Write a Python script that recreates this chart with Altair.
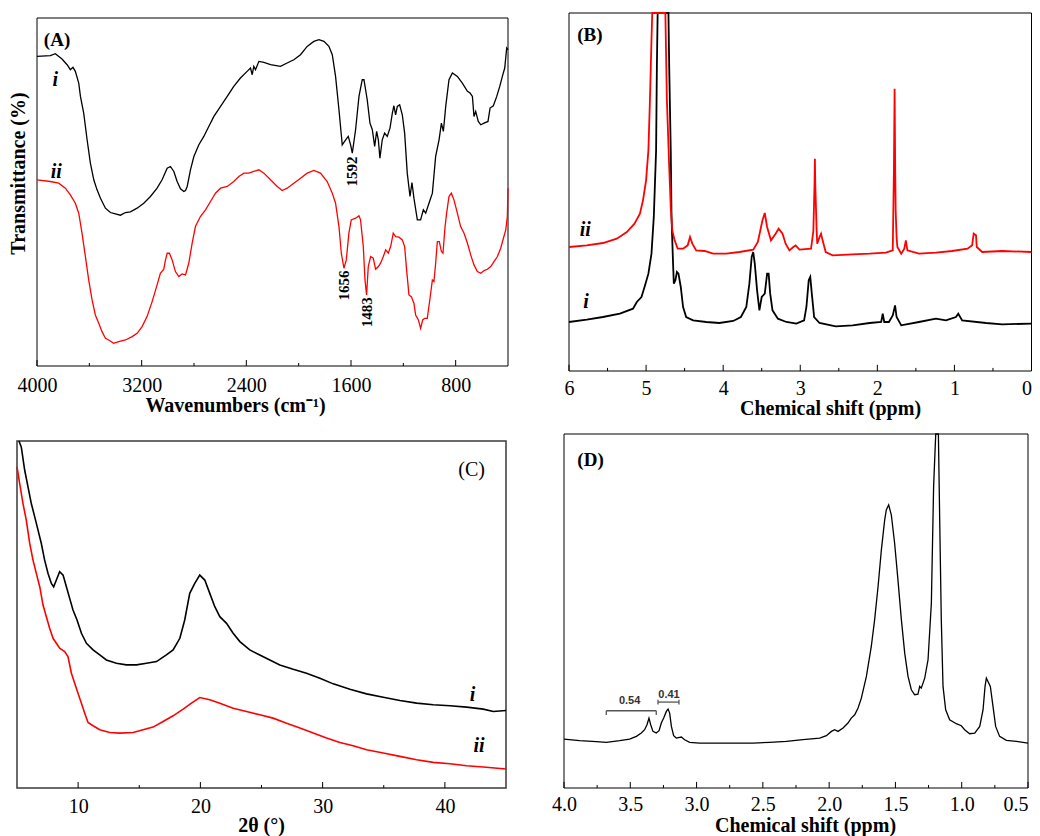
import altair as alt
import pandas as pd

# ---------------- Panel A: FTIR (wavenumber, transmittance a.u.) ----------------
A_WN_I = [4000, 3898, 3860, 3809, 3770, 3745, 3725, 3707, 3681, 3668, 3643, 3617, 3592, 3566, 3541, 3515,
          3477, 3439, 3401, 3362, 3324, 3286, 3235, 3184, 3133, 3082, 3044, 3005, 2980, 2954, 2929, 2903,
          2878, 2865, 2852, 2827, 2801, 2763, 2725, 2687, 2648, 2597, 2546, 2496, 2445, 2394, 2368, 2355,
          2343, 2330, 2304, 2266, 2215, 2139, 2088, 2037, 1986, 1935, 1884, 1845, 1807, 1769, 1743, 1718,
          1692, 1667, 1641, 1621, 1603, 1590, 1565, 1539, 1514, 1501, 1476, 1455, 1437, 1419, 1404, 1391,
          1379, 1361, 1343, 1323, 1302, 1284, 1272, 1259, 1246, 1228, 1208, 1190, 1170, 1149, 1134, 1119,
          1093, 1068, 1047, 1029, 1004, 978, 953, 927, 909, 894, 876, 851, 825, 787, 749, 710, 690, 672,
          660, 647, 627, 608, 583, 553, 537, 512, 486, 463, 443, 425, 410, 400]
A_T_I = [928, 930, 936, 920, 903, 888, 895, 883, 848, 808, 758, 678, 608, 558, 528, 503,
         473, 460, 456, 452, 460, 462, 473, 488, 508, 533, 558, 593, 598, 583, 553, 531,
         523, 526, 538, 588, 628, 663, 688, 718, 748, 778, 808, 838, 863, 883, 893, 873,
         898, 888, 913, 910, 903, 898, 908, 918, 933, 958, 973, 978, 973, 958, 933, 868,
         768, 663, 678, 688, 663, 638, 708, 808, 858, 858, 798, 728, 708, 658, 703, 678,
         623, 678, 698, 688, 713, 758, 780, 753, 778, 783, 753, 698, 578, 508, 550, 503,
         438, 438, 468, 458, 488, 518, 628, 678, 728, 703, 778, 858, 878, 868, 848, 823, 818, 808,
         748, 763, 733, 723, 728, 733, 773, 780, 808, 838, 868, 893, 953, 948]
A_WN_II = [4000, 3898, 3834, 3783, 3745, 3707, 3681, 3656, 3630, 3605, 3579, 3554, 3528, 3503, 3477, 3452,
           3414, 3375, 3324, 3273, 3235, 3197, 3159, 3120, 3082, 3057, 3031, 3018, 3005, 2988, 2967, 2942,
           2916, 2891, 2865, 2840, 2814, 2789, 2751, 2712, 2674, 2636, 2597, 2546, 2496, 2457, 2419, 2381,
           2343, 2304, 2266, 2215, 2164, 2126, 2088, 2037, 1986, 1935, 1884, 1833, 1782, 1743, 1718, 1692,
           1674, 1654, 1636, 1616, 1598, 1565, 1539, 1527, 1506, 1493, 1481, 1468, 1450, 1430, 1412, 1391,
           1374, 1353, 1335, 1315, 1297, 1277, 1259, 1233, 1208, 1190, 1175, 1157, 1139, 1119, 1106, 1085,
           1068, 1052, 1037, 1017, 996, 978, 966, 953, 940, 925, 909, 897, 881, 869, 851, 833, 813, 787,
           762, 736, 710, 685, 660, 634, 608, 583, 558, 532, 507, 481, 456, 435, 417, 405, 400]
A_T_II = [558, 553, 548, 533, 513, 488, 458, 398, 328, 258, 198, 153, 128, 103, 83, 78,
          68, 73, 78, 88, 98, 118, 148, 193, 243, 278, 290, 318, 338, 338, 318, 283,
          268, 276, 273, 308, 368, 418, 448, 468, 493, 518, 533, 538, 553, 568, 578, 578,
          583, 588, 578, 558, 538, 526, 533, 548, 563, 578, 586, 578, 553, 518, 488, 418,
          338, 293, 318, 398, 438, 443, 450, 438, 358, 258, 213, 298, 328, 323, 290, 298,
          308, 328, 348, 338, 358, 398, 388, 386, 378, 358, 288, 213, 208, 188, 153, 138,
          113, 138, 143, 143, 203, 258, 253, 308, 373, 373, 343, 338, 418, 458, 508, 518, 498, 458,
          418, 398, 368, 333, 303, 283, 278, 286, 290, 298, 313, 328, 353, 383, 408, 448, 533]
A_TICKS_MAJOR = [4000, 3200, 2400, 1600, 800]
A_TICKS_MINOR = [3600, 2800, 2000, 1200]
A_PEAKS = [[1590, 583, "1592"], [1654, 241, "1656"], [1476, 161, "1483"]]
A_NAMES = [[3860, 858, "i"], [3852, 580, "ii"]]

# ---------------- Panel B: 1H NMR (ppm, intensity a.u.) ----------------
B_PPM_I = [6.00, 5.77, 5.56, 5.34, 5.17, 5.12, 5.06, 5.02, 4.97, 4.93, 4.90, 4.87, 4.86, 4.85, 4.78, 4.71,
           4.70, 4.68, 4.67, 4.65, 4.64, 4.62, 4.60, 4.58, 4.55, 4.52, 4.48, 4.39, 4.22, 4.05, 3.87, 3.77,
           3.70, 3.66, 3.63, 3.61, 3.59, 3.56, 3.53, 3.50, 3.46, 3.43, 3.41, 3.39, 3.36, 3.29, 3.18, 3.05,
           2.95, 2.92, 2.89, 2.87, 2.85, 2.82, 2.75, 2.54, 2.32, 2.10, 1.95, 1.93, 1.91, 1.85, 1.80, 1.77,
           1.75, 1.69, 1.46, 1.24, 1.11, 0.98, 0.95, 0.90, 0.59, 0.38, 0.00]
B_INT_I = [147, 154, 162, 172, 187, 207, 222, 252, 292, 352, 462, 662, 912, 1074, 3000, 1074,
           912, 662, 462, 322, 262, 272, 297, 292, 252, 192, 162, 152, 147, 144, 150, 162,
           192, 262, 342, 357, 322, 242, 182, 222, 232, 292, 292, 232, 182, 157, 147, 142,
           152, 192, 272, 282, 232, 162, 144, 134, 137, 144, 147, 172, 147, 147, 167, 197,
           162, 137, 147, 157, 152, 162, 172, 152, 144, 140, 142]
B_PPM_II = [6.00, 5.77, 5.56, 5.38, 5.25, 5.15, 5.08, 5.04, 5.00, 4.97, 4.95, 4.93, 4.92, 4.84, 4.75, 4.73,
            4.70, 4.68, 4.66, 4.63, 4.59, 4.52, 4.46, 4.43, 4.40, 4.35, 4.24, 4.13, 3.96, 3.79, 3.61, 3.55,
            3.49, 3.46, 3.43, 3.38, 3.32, 3.28, 3.23, 3.19, 3.14, 3.09, 3.06, 3.01, 2.86, 2.83, 2.815, 2.81,
            2.805, 2.79, 2.78, 2.75, 2.73, 2.71, 2.67, 2.58, 2.32, 2.10, 1.89, 1.80, 1.785, 1.776, 1.768, 1.762,
            1.75, 1.74, 1.69, 1.65, 1.63, 1.61, 1.46, 1.24, 1.03, 0.83, 0.77, 0.75, 0.72, 0.71, 0.64, 0.38, 0.00]
B_INT_II = [372, 377, 384, 397, 417, 442, 472, 512, 572, 662, 812, 992, 1074, 3000, 1074, 812,
            612, 492, 422, 392, 367, 367, 377, 402, 382, 362, 360, 352, 352, 357, 364, 387,
            452, 474, 432, 392, 412, 427, 412, 382, 362, 372, 377, 364, 367, 420, 560, 637,
            560, 440, 382, 402, 412, 392, 357, 347, 350, 352, 355, 362, 600, 847, 600, 480,
            400, 372, 352, 367, 392, 362, 352, 355, 360, 367, 377, 412, 407, 372, 357, 360, 357]
B_TICKS_MAJOR = [6, 5, 4, 3, 2, 1, 0]
B_TICKS_MINOR = [5.5, 4.5, 3.5, 2.5, 1.5, 0.5]
B_NAMES = [[5.79, 422, "ii"], [5.78, 207, "i"]]

# ---------------- Panel C: XRD (2theta, intensity a.u.) ----------------
C_2T_I = [5.16, 5.35, 5.63, 5.90, 6.17, 6.45, 6.72, 6.99, 7.26, 7.54, 7.81, 8.00, 8.22, 8.49, 8.77, 9.04,
          9.31, 9.58, 9.91, 10.27, 10.68, 11.22, 11.77, 12.31, 13.13, 13.95, 14.77, 15.59, 16.41, 17.22,
          17.77, 18.32, 18.72, 19.13, 19.54, 19.95, 20.36, 20.77, 21.18, 21.59, 22.14, 22.68, 23.23, 24.04,
          24.86, 25.68, 26.50, 27.59, 28.68, 29.78, 30.87, 32.23, 33.59, 34.96, 36.32, 37.69, 39.05, 40.42,
          41.78, 43.14, 43.96, 45.0]
C_INT_I = [1085, 1025, 955, 905, 855, 815, 775, 735, 685, 645, 615, 605, 625, 650, 640, 605,
           570, 535, 505, 465, 435, 415, 400, 385, 375, 370, 370, 375, 380, 400,
           415, 450, 505, 585, 615, 640, 625, 585, 545, 515, 495, 465, 440, 415,
           400, 385, 370, 357, 345, 330, 313, 297, 283, 273, 263, 255, 250, 247,
           243, 237, 230, 233]
C_2T_II = [5.0, 5.22, 5.49, 5.76, 6.04, 6.31, 6.58, 6.86, 7.13, 7.40, 7.67, 7.95, 8.22, 8.49, 8.90, 9.17,
           9.45, 9.72, 9.99, 10.27, 10.54, 10.81, 11.22, 11.77, 12.59, 13.40, 14.50, 15.31, 16.13, 16.95,
           17.77, 18.59, 19.27, 19.95, 20.77, 21.59, 22.68, 23.77, 24.86, 25.95, 27.05, 28.14, 29.23, 30.32,
           31.41, 32.50, 33.59, 34.96, 36.32, 37.69, 39.05, 40.42, 41.78, 43.14, 45.0]
C_INT_II = [965, 915, 855, 805, 735, 685, 645, 605, 550, 515, 480, 450, 435, 420, 410, 395,
            345, 315, 285, 255, 225, 197, 187, 175, 167, 165, 167, 175, 183, 200,
            217, 237, 255, 272, 265, 255, 240, 230, 220, 210, 195, 180, 165, 150,
            137, 127, 115, 105, 95, 85, 77, 73, 67, 63, 57]
C_TICKS_MAJOR = [10, 20, 30, 40]
C_TICKS_MINOR = [15, 25, 35]
C_NAMES = [[42.27, 280, "i"], [42.79, 125, "ii"]]

# ---------------- Panel D: 1H NMR (ppm, intensity a.u.) ----------------
D_PPM = [4.000, 3.882, 3.756, 3.681, 3.580, 3.505, 3.454, 3.417, 3.392, 3.374, 3.359, 3.346, 3.329, 3.304,
         3.283, 3.266, 3.248, 3.228, 3.215, 3.203, 3.190, 3.173, 3.153, 3.115, 3.090, 3.052, 2.977, 2.826,
         2.700, 2.574, 2.449, 2.323, 2.197, 2.071, 2.021, 1.983, 1.958, 1.933, 1.895, 1.858, 1.833, 1.807,
         1.782, 1.757, 1.719, 1.682, 1.657, 1.631, 1.606, 1.581, 1.569, 1.551, 1.531, 1.506, 1.481, 1.455,
         1.430, 1.405, 1.380, 1.355, 1.330, 1.317, 1.305, 1.279, 1.254, 1.229, 1.212, 1.196, 1.186, 1.176,
         1.166, 1.154, 1.141, 1.121, 1.091, 1.041, 1.003, 0.978, 0.940, 0.902, 0.864, 0.839, 0.824, 0.814,
         0.802, 0.784, 0.764, 0.744, 0.714, 0.663, 0.588, 0.500]
D_INT = [147, 142, 139, 137, 142, 147, 155, 165, 175, 190, 210, 190, 170, 165,
         172, 195, 210, 230, 237, 225, 185, 157, 150, 153, 145, 137, 135, 135,
         135, 135, 137, 140, 145, 150, 157, 170, 175, 170, 180, 195, 210, 220,
         240, 270, 335, 425, 505, 605, 715, 805, 835, 850, 820, 735, 625, 505,
         405, 335, 295, 280, 282, 305, 300, 330, 385, 555, 905, 1063, 1600, 1063,
         805, 505, 305, 235, 205, 193, 187, 175, 163, 165, 185, 235, 305, 330,
         320, 305, 245, 185, 155, 143, 140, 135]
D_TICKS_MAJOR = [4.0, 3.5, 3.0, 2.5, 2.0, 1.5, 1.0, 0.5]
D_TICKS_MINOR = [3.75, 3.25, 2.75, 2.25, 1.75, 1.25, 0.75]
D_BRACKETS = [[3.681, 3.304, 232, 232], [3.681, 3.681, 232, 219], [3.304, 3.304, 232, 219],
              [3.291, 3.133, 258, 258], [3.291, 3.291, 265, 251], [3.133, 3.133, 265, 251]]
D_INTEGRALS = [[3.505, 262, "0.54"], [3.208, 280, "0.41"]]

SERIF = "Liberation Serif"
W, H = 1024, 828


def xaxis(title, values, fmt, offset, lpad, tx, ty, last=None):
    align = "center"
    if last is not None:
        align = {"condition": {"test": "datum.value == %s" % last, "value": "right"}, "value": "center"}
    return alt.Axis(orient="bottom", offset=offset, values=values, format=fmt, title=title,
                    ticks=False, tickSize=0, domain=False, grid=False, labelFlush=False,
                    labelOverlap=False, labelBaseline="middle", labelPadding=lpad, labelAlign=align,
                    labelFont=SERIF, labelFontSize=20, labelColor="black",
                    titleFont=SERIF, titleFontSize=20, titleFontWeight="bold", titleColor="black",
                    titleBaseline="middle", titleX=tx, titleY=ty)


def panel(series, xdom, xrange, rev, ydom, yrange, xax, yax, major, minor, texts, extra=None,
          frame_color="black", frame_width=1):
    xs = alt.Scale(domain=xdom, range=xrange, reverse=rev, nice=False, zero=False)
    ys = alt.Scale(domain=ydom, range=yrange, nice=False, zero=False, clamp=True)
    X = lambda f: alt.X(f, scale=xs, axis=xax, title=xax.title if xax is not None else "")
    Y = lambda f: alt.Y(f, scale=ys, axis=yax, title=yax.title if yax is not None else "")
    layers = []
    frame = pd.DataFrame({"x": [xdom[0]], "x2": [xdom[1]], "y": [ydom[0]], "y2": [ydom[1]]})
    layers.append(alt.Chart(frame).mark_rect(fillOpacity=0, stroke=frame_color,
                                             strokeWidth=frame_width).encode(
        x=X("x:Q"), x2="x2:Q", y=Y("y:Q"), y2="y2:Q"))
    for xv, yv, color, sw in series:
        df = pd.DataFrame({"x": xv, "y": yv})
        layers.append(alt.Chart(df).mark_line(color=color, strokeWidth=sw).encode(
            x=X("x:Q"), y=Y("y:Q")))
    span = ydom[1] - ydom[0]
    for vals, frac in [(major, 0.0172), (minor, 0.0086)]:
        df = pd.DataFrame({"x": vals, "y": [ydom[0]] * len(vals), "y2": [ydom[0] + span * frac] * len(vals)})
        layers.append(alt.Chart(df).mark_rule(color="black", strokeWidth=1).encode(
            x=X("x:Q"), y=Y("y:Q"), y2="y2:Q"))
    if extra is not None:
        for ex in extra:
            layers.append(ex(X, Y))
    for items, style in texts:
        df = pd.DataFrame(items, columns=["x", "y", "label"])
        layers.append(alt.Chart(df).mark_text(**style).encode(
            x=X("x:Q"), y=Y("y:Q"), text="label:N"))
    return alt.layer(*layers)


name_style = dict(font=SERIF, fontSize=20, fontWeight="bold", fontStyle="italic", color="black")
tag_bold = dict(font=SERIF, fontSize=19, fontWeight="bold", color="black")

# Panel A  (plot area x 29..500, y 10..358 in chart pixels)
axA = xaxis("Wavenumbers (cm\u207b\u00b9)", A_TICKS_MAJOR, "d", 358 - H, 19, 227, 39)
ayA = alt.Axis(orient="left", offset=-29, labels=False, ticks=False, domain=False, grid=False,
               title="Transmittance (%)", titleFont=SERIF, titleFontSize=20, titleFontWeight="bold",
               titleColor="black", titleBaseline="middle", titleAngle=270, titleX=-19, titleY=165)
pA = panel([(A_WN_I, A_T_I, "black", 1.3), (A_WN_II, A_T_II, "#ff0000", 1.3)],
           [400, 4000], [29, 500], True, [0, 1043], [358, 10], axA, ayA,
           A_TICKS_MAJOR, A_TICKS_MINOR,
           [(A_NAMES, name_style),
            ([[3847, 978, "(A)"]], tag_bold),
            (A_PEAKS, dict(font=SERIF, fontSize=15, fontWeight="bold", angle=270, color="black"))])

# Panel B  (x 561..1023.5, y 5..363)
axB = xaxis("Chemical shift (ppm)", B_TICKS_MAJOR, "d", 363 - H, 17, 822, 37, last=0)
pB = panel([(B_PPM_I, B_INT_I, "black", 1.8), (B_PPM_II, B_INT_II, "#ff0000", 1.8)],
           [0, 6], [561, 1023.5], True, [0, 1074], [363, 5], axB, None,
           B_TICKS_MAJOR, B_TICKS_MINOR,
           [(B_NAMES, name_style), ([[5.73, 1007, "(B)"]], tag_bold)])

# Panel C  (x 9..498, y 433..780)
axC = xaxis("2\u03b8  (\u00b0)", C_TICKS_MAJOR, "d", 780 - H, 18, 253, 37)
pC = panel([(C_2T_I, C_INT_I, "black", 1.6), (C_2T_II, C_INT_II, "#ff0000", 1.6)],
           [5, 45], [9, 498], False, [0, 1043], [780, 433], axC, None,
           C_TICKS_MAJOR, C_TICKS_MINOR,
           [(C_NAMES, name_style),
            ([[42.19, 957, "(C)"]], dict(font=SERIF, fontSize=20, color="black"))],
           frame_color="#3a3a3a", frame_width=1.5)


# Panel D  (x 556..1020, y 426..780)
def brackets(X, Y):
    return alt.Chart(pd.DataFrame(D_BRACKETS, columns=["x", "x2", "y", "y2"])).mark_rule(
        color="#555555", strokeWidth=1.3).encode(x=X("x:Q"), x2="x2:Q", y=Y("y:Q"), y2="y2:Q")


axD = xaxis("Chemical shift (ppm)", D_TICKS_MAJOR, ".1f", 780 - H, 16, 797, 37.5, last=0.5)
pD = panel([(D_PPM, D_INT, "black", 1.3)],
           [0.5, 4.0], [556, 1020], True, [0, 1063], [780, 426], axD, None,
           D_TICKS_MAJOR, D_TICKS_MINOR,
           [([[3.80, 985, "(D)"]], tag_bold),
            (D_INTEGRALS, dict(font="Liberation Sans", fontSize=11, fontWeight="bold", color="#333333"))],
           extra=[brackets])

chart = alt.layer(pA, pB, pC, pD).resolve_scale(x="independent", y="independent").properties(
    width=W, height=H, padding=0, autosize=alt.AutoSizeParams(type="none")
).configure_view(stroke="transparent").configure_axis(
    labelFont=SERIF, labelFontSize=20, labelColor="black",
    titleFont=SERIF, titleFontSize=20, titleFontWeight="bold", titleColor="black")

chart.save("out.html", embed_options={"renderer": "svg", "actions": False})
